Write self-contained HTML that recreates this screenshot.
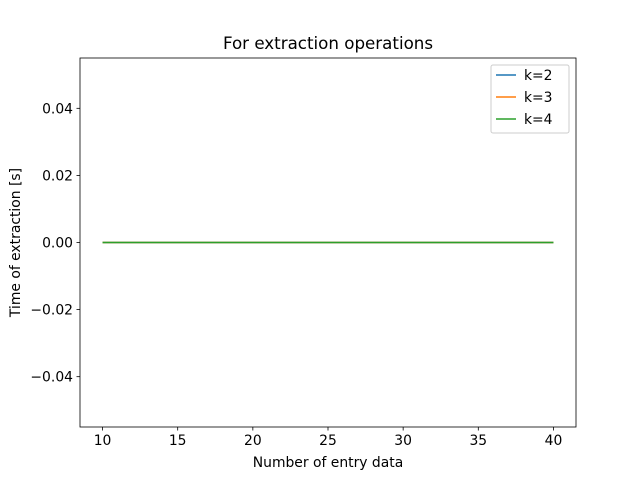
<!DOCTYPE html>
<html><head><meta charset="utf-8"><style>
body{margin:0;background:#fff;}
svg{display:block;font-family:"DejaVu Sans","Liberation Sans",sans-serif;}
</style></head><body>
<svg id="chart" width="640" height="480">
<rect width="640" height="480" fill="#fff"/>
<text x="328" y="49" font-size="16.7" text-anchor="middle">For extraction operations</text>
<g id="plot"></g>
<text x="328" y="467" font-size="13.9" text-anchor="middle">Number of entry data</text>
<text transform="translate(20,242.5) rotate(-90)" font-size="13.9" text-anchor="middle">Time of extraction [s]</text>
</svg>
<script>
const xValues=[10,20,30,40];
const seriesK2=[0,0,0,0];
const seriesK3=[0,0,0,0];
const seriesK4=[0,0,0,0];
const seriesNames=["k=2","k=3","k=4"];
const xTicks=[10,15,20,25,30,35,40];
const yTicks=[-0.04,-0.02,0.00,0.02,0.04];
const yTickLabels=["\u22120.04","\u22120.02","0.00","0.02","0.04"];

const L=80,R=576,T=58,B=427;
const xMin=8.5,xMax=41.5,yMin=-0.055,yMax=0.055;
const sx=v=>L+(v-xMin)/(xMax-xMin)*(R-L);
const sy=v=>B-(v-yMin)/(yMax-yMin)*(B-T);
const NS="http://www.w3.org/2000/svg";
const g=document.getElementById('plot');
function mk(t,a){const e=document.createElementNS(NS,t);for(const k in a)e.setAttribute(k,a[k]);g.appendChild(e);return e;}

xTicks.forEach(v=>{
 const t=mk('line',{x1:sx(v),x2:sx(v),y1:B,y2:B+3.5,stroke:'#000','stroke-width':0.8});
 
 
 const l=mk('text',{x:sx(v),y:B+18,'font-size':13.9,'text-anchor':'middle'});l.textContent=v;
 
 
});
yTicks.forEach((v,i)=>{
 const t=mk('line',{x1:L-3.5,x2:L,y1:sy(v),y2:sy(v),stroke:'#000','stroke-width':0.8});
 
 
 const l=mk('text',{x:L-7,y:sy(v)+5,'font-size':13.9,'text-anchor':'end'});l.textContent=yTickLabels[i];
 
 
});
const colors=['#1f77b4','#ff7f0e','#2ca02c'];
[seriesK2,seriesK3,seriesK4].forEach((s,i)=>{
 const p=mk('polyline',{points:s.map((v,j)=>sx(xValues[j])+','+sy(v)).join(' '),fill:'none',stroke:colors[i],'stroke-width':1.5});
 
 
});
const f=mk('rect',{x:L,y:T,width:R-L,height:B-T,fill:'none',stroke:'#000','stroke-width':0.8});


const lg=mk('rect',{x:491,y:65,width:78,height:68,rx:2,fill:'#fff','fill-opacity':0.8,stroke:'#ccc','stroke-width':1});


seriesNames.forEach((n,i)=>{
 const y=75+i*22;
 const ln=mk('line',{x1:496,x2:516,y1:y,y2:y,stroke:colors[i],'stroke-width':1.5});
 
 
 const t=mk('text',{x:524,y:y+5,'font-size':13.9});t.textContent=n;
 
 
});
</script>
</body></html>
